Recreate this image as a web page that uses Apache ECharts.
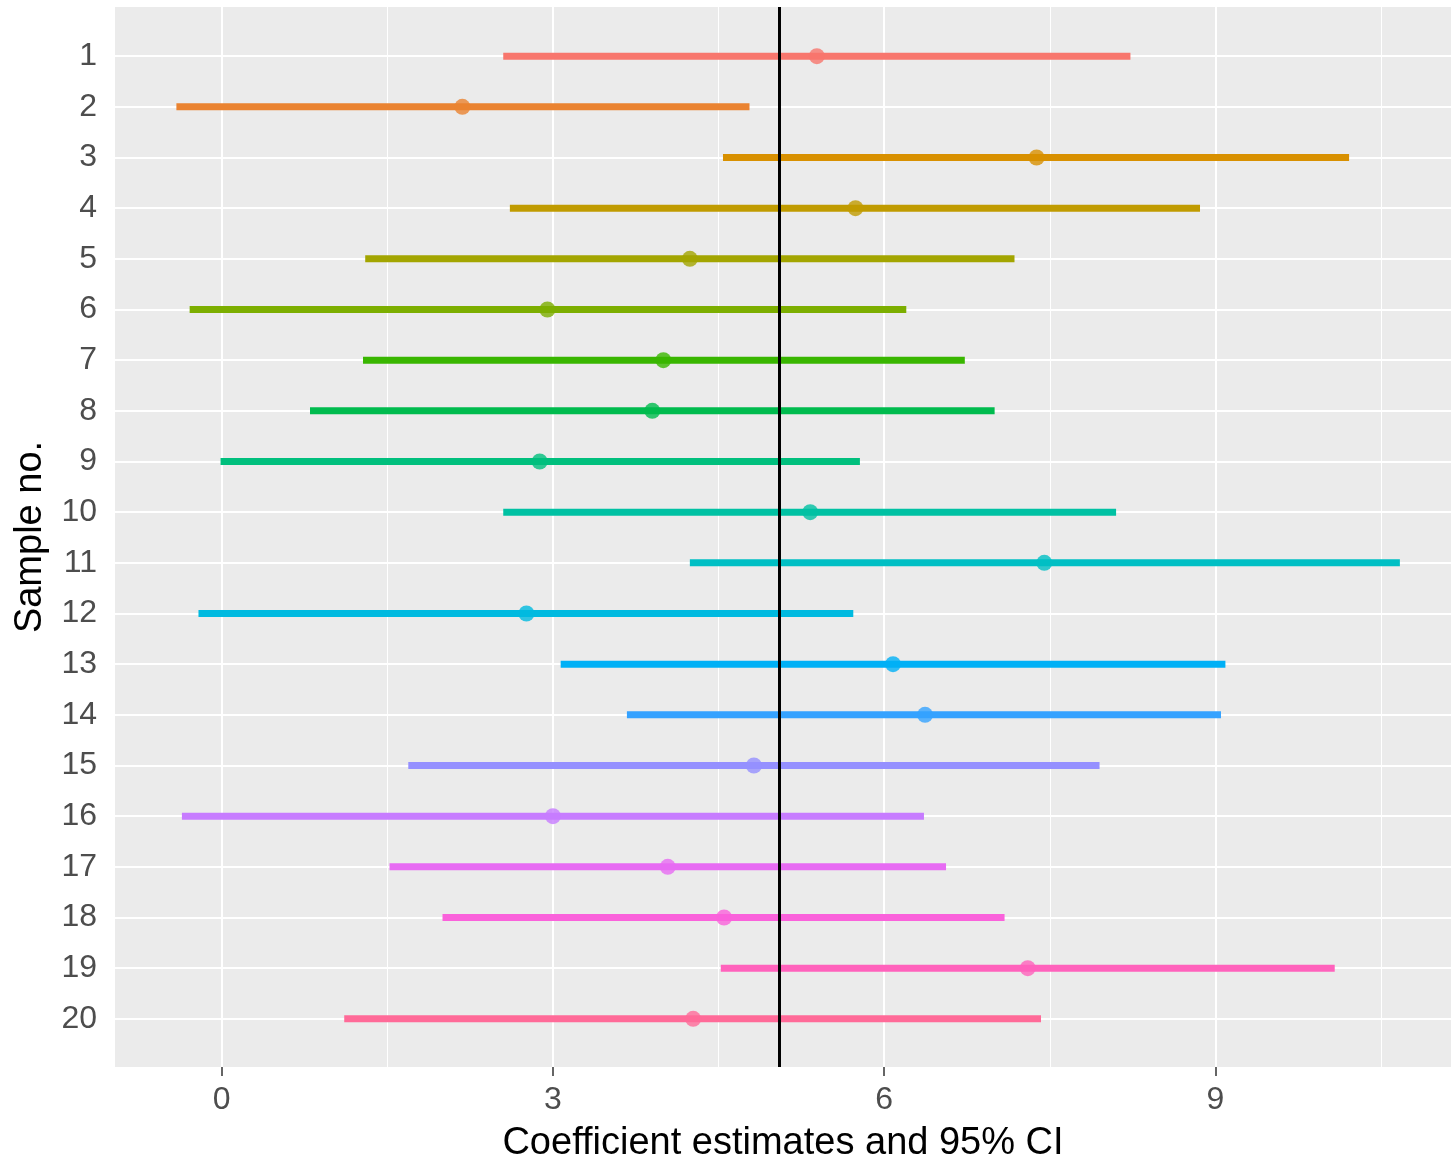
<!DOCTYPE html>
<html>
<head>
<meta charset="utf-8">
<title>Coefficient estimates</title>
<script src="https://cdn.jsdelivr.net/npm/echarts@6/dist/echarts.min.js"></script>
<style>
  html, body { margin: 0; padding: 0; background: #fff; }
  #chart { width: 1451px; height: 1163px; }
</style>
</head>
<body>
<div id="chart"></div>
<script>
/* data */
var samples = [1, 2, 3, 4, 5, 6, 7, 8, 9, 10, 11, 12, 13, 14, 15, 16, 17, 18, 19, 20];
var estimate = [5.39, 2.18, 7.38, 5.74, 4.24, 2.95, 4.00, 3.90, 2.88, 5.33, 7.45, 2.76, 6.08, 6.37, 4.82, 3.00, 4.04, 4.55, 7.30, 4.27];
var lower = [2.55, -0.41, 4.54, 2.61, 1.30, -0.29, 1.28, 0.80, -0.01, 2.55, 4.24, -0.21, 3.07, 3.67, 1.69, -0.36, 1.52, 2.00, 4.52, 1.11];
var upper = [8.23, 4.78, 10.21, 8.86, 7.18, 6.20, 6.73, 7.00, 5.78, 8.10, 10.67, 5.72, 9.09, 9.05, 7.95, 6.36, 6.56, 7.09, 10.08, 7.42];
var trueValue = 5.05;
var xTicks = [0, 3, 6, 9];
var xMinor = [1.5, 4.5, 7.5, 10.5];

var colors = ['#F8766D', '#EA8331', '#D89000', '#C09B00', '#A3A500', '#7CAE00', '#39B600', '#00BB4E', '#00BF7D', '#00C1A3',
              '#00BFC4', '#00BAE0', '#00B0F6', '#35A2FF', '#9590FF', '#C77CFF', '#E76BF3', '#FA62DB', '#FF62BC', '#FF6A98'];

var chart = echarts.init(document.getElementById('chart'));

var ciData = samples.map(function (s, i) { return [s, lower[i], upper[i]]; });
var ptData = samples.map(function (s, i) {
    return { value: [estimate[i], s], itemStyle: { color: colors[i] } };
});

var gridLines = []
    .concat(xMinor.map(function (v) { return { xAxis: v, lineStyle: { width: 1 } }; }))
    .concat(xTicks.map(function (v) { return { xAxis: v, lineStyle: { width: 2 } }; }))
    .concat(samples.map(function (v) { return { yAxis: v, lineStyle: { width: 2 } }; }));

var labelFont = 'Liberation Sans, Arial, sans-serif';

var option = {
    animation: false,
    backgroundColor: '#fff',
    grid: {
        left: 115, right: 0, top: 7, bottom: 96,
        show: true, backgroundColor: '#EBEBEB', borderWidth: 0,
        outerBoundsMode: 'none'
    },
    xAxis: {
        type: 'value',
        min: -0.966, max: 11.133,
        name: 'Coefficient estimates and 95% CI',
        nameLocation: 'middle',
        nameGap: 58,
        nameTextStyle: { fontSize: 38, color: '#000', fontFamily: labelFont },
        axisLine: { show: false },
        axisTick: { show: true, length: 9, lineStyle: { color: '#333', width: 1.5 }, customValues: xTicks },
        axisLabel: { customValues: xTicks, fontSize: 32, color: '#4D4D4D', margin: 17, fontFamily: labelFont },
        splitLine: { show: false }
    },
    yAxis: {
        type: 'value',
        inverse: true,
        min: 0.03, max: 20.95,
        name: 'Sample no.',
        nameLocation: 'middle',
        nameGap: 65,
        nameTextStyle: { fontSize: 38, color: '#000', fontFamily: labelFont },
        axisLine: { show: false },
        axisTick: { show: true, length: 9, lineStyle: { color: '#333', width: 1.5 }, customValues: samples },
        axisLabel: { customValues: samples, fontSize: 32, color: '#4D4D4D', margin: 18, fontFamily: labelFont },
        splitLine: { show: false }
    },
    series: [
        {
            // panel grid lines
            type: 'line',
            data: [],
            z: 1,
            silent: true,
            markLine: {
                z: 1,
                silent: true,
                symbol: ['none', 'none'],
                label: { show: false },
                lineStyle: { color: '#fff', type: 'solid' },
                emphasis: { disabled: true },
                data: gridLines
            }
        },
        {
            type: 'custom',
            z: 3,
            data: ciData,
            encode: { x: [1, 2], y: 0 },
            renderItem: function (params, api) {
                var a = api.coord([api.value(1), api.value(0)]);
                var b = api.coord([api.value(2), api.value(0)]);
                return {
                    type: 'line',
                    shape: { x1: a[0], y1: a[1], x2: b[0], y2: b[1] },
                    style: { stroke: colors[params.dataIndex], lineWidth: 7, lineCap: 'butt' }
                };
            }
        },
        {
            type: 'scatter',
            z: 4,
            symbol: 'circle',
            symbolSize: 16,
            data: ptData
        },
        {
            // reference line at the true value
            type: 'line',
            data: [],
            z: 6,
            silent: true,
            markLine: {
                z: 6,
                silent: true,
                symbol: ['none', 'none'],
                label: { show: false },
                lineStyle: { color: '#000', width: 3, type: 'solid' },
                data: [{ xAxis: trueValue }]
            }
        }
    ]
};

chart.setOption(option);
</script>
</body>
</html>
